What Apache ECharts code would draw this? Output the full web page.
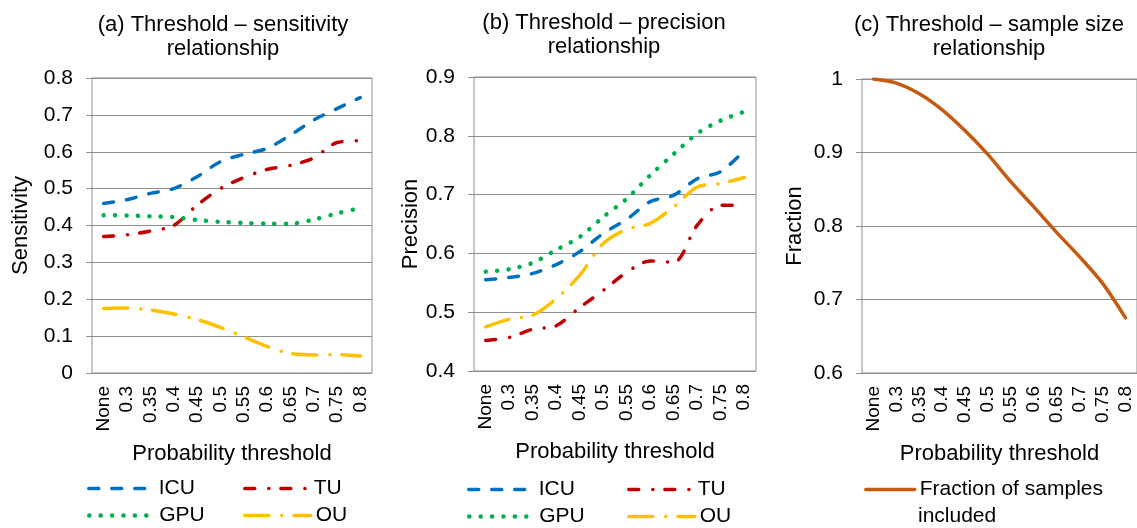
<!DOCTYPE html>
<html>
<head>
<meta charset="utf-8">
<script src="https://cdn.jsdelivr.net/npm/echarts@6/dist/echarts.min.js"></script>
<style>
html,body{margin:0;padding:0;background:#fff;}
#chart{width:1137px;height:528px;}
</style>
</head>
<body>
<div id="chart"></div>
<script>
var categories = ['None','0.3','0.35','0.4','0.45','0.5','0.55','0.6','0.65','0.7','0.75','0.8'];

var sensICU = [0.46, 0.47, 0.487, 0.50, 0.532, 0.573, 0.593, 0.609, 0.645, 0.686, 0.717, 0.747];
var sensTU  = [0.37, 0.375, 0.385, 0.40, 0.455, 0.50, 0.53, 0.552, 0.563, 0.583, 0.625, 0.63];
var sensGPU = [0.428, 0.427, 0.425, 0.423, 0.415, 0.41, 0.407, 0.405, 0.405, 0.416, 0.433, 0.447];
var sensOU  = [0.175, 0.176, 0.171, 0.16, 0.145, 0.124, 0.098, 0.072, 0.053, 0.049, 0.05, 0.046];

var precICU = [0.555, 0.559, 0.566, 0.581, 0.603, 0.634, 0.658, 0.688, 0.699, 0.727, 0.739, 0.775];
var precTU  = [0.452, 0.457, 0.471, 0.477, 0.508, 0.537, 0.568, 0.587, 0.585, 0.648, 0.682, 0.682];
var precGPU = [0.569, 0.573, 0.584, 0.606, 0.628, 0.662, 0.693, 0.733, 0.769, 0.804, 0.826, 0.841];
var precOU  = [0.475, 0.488, 0.495, 0.523, 0.563, 0.617, 0.641, 0.651, 0.679, 0.713, 0.719, 0.729];

var fractionIncluded = [1.0, 0.9945, 0.98, 0.958, 0.9295, 0.897, 0.860, 0.826, 0.791, 0.758, 0.722, 0.675];

var titles = ['(a) Threshold \u2013 sensitivity\nrelationship', '(b) Threshold \u2013 precision\nrelationship', '(c) Threshold \u2013 sample size\nrelationship'];
var yNames = ['Sensitivity', 'Precision', 'Fraction'];
var xName = 'Probability threshold';

var FONT = '"Liberation Sans", Arial, sans-serif';
var GRAY = '#8f8f8f';

var styles = {
  ICU: {color: '#0070C0', width: 3.5, type: [10, 13], cap: 'round'},
  TU:  {color: '#C00000', width: 3.5, type: [10, 14, 0.1, 12], cap: 'round'},
  GPU: {color: '#00B050', width: 4.5, type: [0.1, 11.3], cap: 'round'},
  OU:  {color: '#FFC000', width: 3.5, type: [24, 13, 0.1, 12], cap: 'round'},
  FR:  {color: '#C55A11', width: 3.5, type: 'solid', cap: 'round'}
};

var grids = [
  {left: 92, top: 78, width: 280, height: 295, show: true, borderColor: GRAY, borderWidth: 1},
  {left: 474, top: 77, width: 282, height: 294, show: true, borderColor: GRAY, borderWidth: 1},
  {left: 862, top: 79, width: 279, height: 294, show: true, borderColor: GRAY, borderWidth: 1}
];

var yRanges = [[0, 0.8], [0.4, 0.9], [0.6, 1]];
var yGaps = [60, 52, 56];

var xAxes = [], yAxes = [];
for (var i = 0; i < 3; i++) {
  xAxes.push({
    type: 'category', gridIndex: i, data: categories, boundaryGap: true,
    axisLine: {show: false}, axisTick: {show: false},
    axisLabel: {rotate: 90, margin: 13, fontSize: 19, color: '#000', fontFamily: FONT, interval: 0},
    name: xName, nameLocation: 'middle', nameGap: 70,
    nameTextStyle: {fontSize: 22, color: '#000', fontFamily: FONT}
  });
  yAxes.push({
    type: 'value', gridIndex: i, min: yRanges[i][0], max: yRanges[i][1], interval: 0.1,
    axisLine: {show: false},
    axisTick: {show: true, length: 6, lineStyle: {color: GRAY}},
    splitLine: {show: true, lineStyle: {color: GRAY, width: 1}},
    axisLabel: {fontSize: 21, color: '#000', fontFamily: FONT, margin: 19},
    name: yNames[i], nameLocation: 'middle', nameGap: yGaps[i],
    nameTextStyle: {fontSize: 22, color: '#000', fontFamily: FONT}
  });
}

function mkSeries(name, data, idx, st) {
  return {
    type: 'line', name: name, data: data, xAxisIndex: idx, yAxisIndex: idx,
    symbol: 'none', smooth: 0.3, silent: true,
    lineStyle: {color: st.color, width: st.width, type: st.type, cap: st.cap, join: 'round'},
    itemStyle: {color: st.color}
  };
}

var series = [
  mkSeries('ICU', sensICU, 0, styles.ICU),
  mkSeries('TU', sensTU, 0, styles.TU),
  mkSeries('GPU', sensGPU, 0, styles.GPU),
  mkSeries('OU', sensOU, 0, styles.OU),
  mkSeries('ICU', precICU, 1, styles.ICU),
  mkSeries('TU', precTU, 1, styles.TU),
  mkSeries('GPU', precGPU, 1, styles.GPU),
  mkSeries('OU', precOU, 1, styles.OU),
  mkSeries('Fraction of samples included', fractionIncluded, 2, styles.FR)
];

function mkLegend(name, left, centerY, itemWidth, st, label) {
  return {
    data: [name], left: left, top: centerY - 12, orient: 'horizontal',
    itemWidth: itemWidth, itemHeight: 24, padding: 0, selectedMode: false,
    formatter: label ? function () { return label; } : undefined,
    itemStyle: {opacity: 0, borderWidth: 0},
    lineStyle: {width: st.width, type: 'inherit', cap: 'inherit', color: 'inherit'},
    textStyle: {fontSize: 21, color: '#000', fontFamily: FONT}
  };
}

var legends = [
  mkLegend('ICU', 87, 490, 65, styles.ICU),
  mkLegend('TU', 243, 490, 64, styles.TU),
  mkLegend('GPU', 87, 517, 65, styles.GPU),
  mkLegend('OU', 243, 517, 66, styles.OU),
  mkLegend('ICU', 467, 491, 65, styles.ICU),
  mkLegend('TU', 627, 491, 64, styles.TU),
  mkLegend('GPU', 467, 518, 65, styles.GPU),
  mkLegend('OU', 627, 518, 66, styles.OU),
  mkLegend('Fraction of samples included', 864, 491, 49, styles.FR, 'Fraction of samples')
];

var titleCenters = [223, 604, 989];
var titleTops = [13, 11, 13];
var titleArr = [];
for (var t = 0; t < 3; t++) {
  titleArr.push({
    text: titles[t], left: titleCenters[t], top: titleTops[t], textAlign: 'center', padding: 0,
    textStyle: {fontSize: 22, fontWeight: 'normal', color: '#000', fontFamily: FONT, lineHeight: 24}
  });
}
titleArr.push({
  text: 'included', left: 918, top: 506, padding: 0,
  textStyle: {fontSize: 21, fontWeight: 'normal', color: '#000', fontFamily: FONT}
});

var chart = echarts.init(document.getElementById('chart'), null, {renderer: 'canvas'});
chart.setOption({
  animation: false,
  backgroundColor: '#fff',
  textStyle: {fontFamily: FONT},
  title: titleArr,
  grid: grids,
  xAxis: xAxes,
  yAxis: yAxes,
  legend: legends,
  series: series
});
</script>
</body>
</html>
